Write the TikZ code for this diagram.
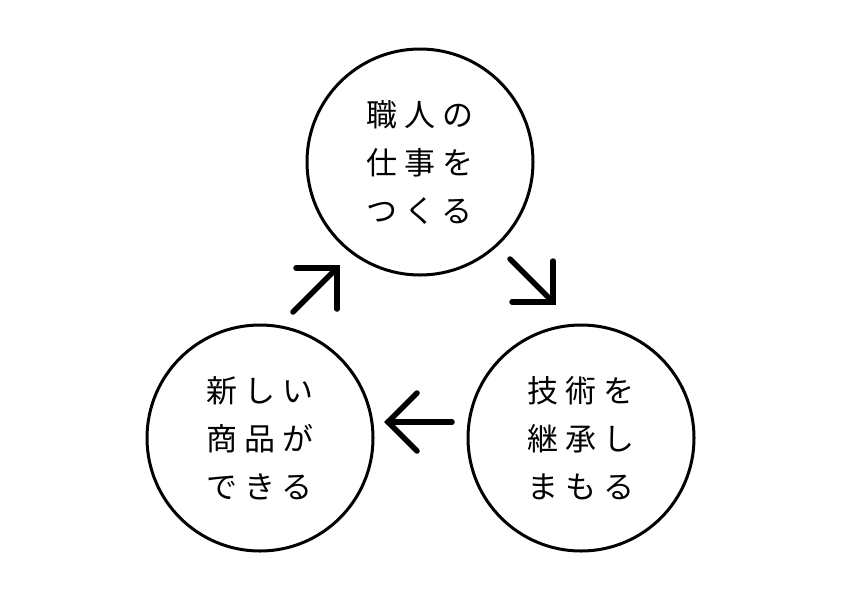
\documentclass[tikz,border=0pt]{standalone}
\usepackage{fontspec}
\newfontfamily\jp[LetterSpace=22]{Noto Sans CJK JP}
\tikzset{
  stage/.style={circle, draw=black, line width=3pt, minimum size=226pt, inner sep=0pt,
    align=center, font=\jp\fontsize{31pt}{48pt}\selectfont},
  flow/.style={line width=5.5pt, line cap=round, line join=miter, draw=black}
}
\begin{document}
\begin{tikzpicture}[x=1pt,y=-1pt]
\useasboundingbox (0,0) rectangle (842,595);
\node[stage] (top) at (420,162) {職人の\\仕事を\\つくる};
\node[stage] (left) at (260,438) {新しい\\商品が\\できる};
\node[stage] (right) at (581,438) {技術を\\継承し\\まもる};
% arrow left -> top
\coordinate (a1s) at (293,312);
\coordinate (a1t) at (337,268);
\coordinate (a1h1) at (296,268);
\coordinate (a1h2) at (337,309);
\draw[flow] (a1s) -- (a1t);
\draw[flow] (a1h1) -- (a1t) -- (a1h2);
% arrow top -> right
\coordinate (a2s) at (510,259);
\coordinate (a2t) at (553,302);
\coordinate (a2h1) at (553,261);
\coordinate (a2h2) at (512,302);
\draw[flow] (a2s) -- (a2t);
\draw[flow] (a2h1) -- (a2t) -- (a2h2);
% arrow right -> left
\coordinate (a3s) at (452,422);
\coordinate (a3t) at (388,422);
\coordinate (a3h1) at (417,393);
\coordinate (a3h2) at (417,451);
\draw[flow] (a3s) -- (a3t);
\draw[flow] (a3h1) -- (a3t) -- (a3h2);
\end{tikzpicture}
\end{document}
